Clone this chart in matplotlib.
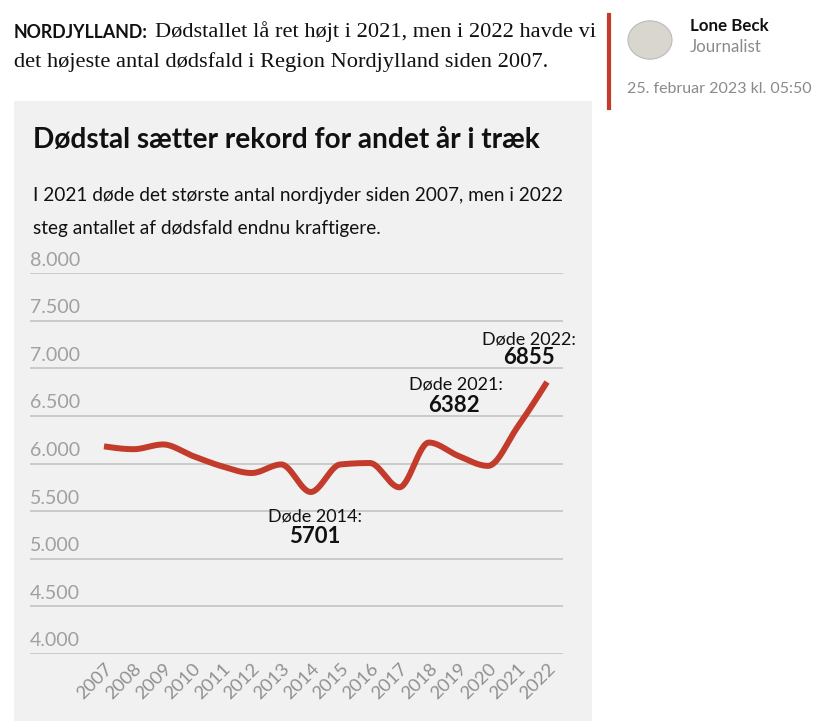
import numpy as np
import matplotlib
matplotlib.use("Agg")
import matplotlib.pyplot as plt
from matplotlib.patches import Rectangle, Circle
from matplotlib.lines import Line2D
import matplotlib.transforms as mtransforms

# ---------------- data ----------------
years = [2007, 2008, 2009, 2010, 2011, 2012, 2013, 2014,
         2015, 2016, 2017, 2018, 2019, 2020, 2021, 2022]
deaths = [6180, 6150, 6200, 6080, 5970, 5900, 5990, 5701,
          5990, 6005, 5750, 6220, 6080, 5975, 6382, 6855]
y_ticks = [4000, 4500, 5000, 5500, 6000, 6500, 7000, 7500, 8000]
y_tick_labels = ["4.000", "4.500", "5.000", "5.500", "6.000",
                 "6.500", "7.000", "7.500", "8.000"]
x_tick_labels = [str(y) for y in years]
annot_years = [2014, 2021, 2022]
annot_labels = ["Døde 2014:", "Døde 2021:", "Døde 2022:"]
annot_values = ["5701", "6382", "6855"]

title = "Dødstal sætter rekord for andet år i træk"
subtitle = ["I 2021 døde det største antal nordjyder siden 2007, men i 2022",
            "steg antallet af dødsfald endnu kraftigere."]
lead_bold = "NORDJYLLAND:"
lead_lines = ["Dødstallet lå ret højt i 2021, men i 2022 havde vi",
              "det højeste antal dødsfald i Region Nordjylland siden 2007."]
author = "Lone Beck"
role = "Journalist"
date = "25. februar 2023 kl. 05:50"

# ---------------- figure ----------------
W, H = 828, 721
fig = plt.figure(figsize=(W / 100, H / 100), dpi=100)
fig.patch.set_facecolor("white")

SANS = ["Lato", "DejaVu Sans"]
SERIF = ["Liberation Serif", "DejaVu Serif"]
RED = "#c23b2b"


def fx(px):
    return px / W


def fy(py):
    return 1 - py / H


# gray panel
fig.patches.append(Rectangle((fx(14), fy(721)), fx(592) - fx(14), fy(101) - fy(721),
                             transform=fig.transFigure, facecolor="#f1f1f1",
                             edgecolor="none", zorder=-5))

# lead text
fig.text(fx(14), fy(32), lead_bold, fontsize=12.8, fontweight="bold",
         family=SANS, color="#111111", va="center", ha="left")
fig.text(fx(155), fy(32), lead_lines[0], fontsize=16.1, family=SERIF,
         color="#111111", va="center", ha="left")
fig.text(fx(14), fy(62), lead_lines[1], fontsize=16.1, family=SERIF,
         color="#111111", va="center", ha="left")

# author block
fig.add_artist(Line2D([fx(609), fx(609)], [fy(15), fy(108)], color=RED, lw=3,
                      transform=fig.transFigure))
fig.patches.append(Circle((fx(650), fy(40)), radius=22 / W,
                          transform=fig.transFigure, facecolor="#d9d6d0",
                          edgecolor="#bbbbbb", lw=0.8, zorder=2))
fig.text(fx(690), fy(26), author, fontsize=12.2, fontweight="bold", family=SANS,
         color="#111111", va="center", ha="left")
fig.text(fx(690), fy(47), role, fontsize=12.2, family=SANS, color="#8a8a8a",
         va="center", ha="left")
fig.text(fx(627), fy(89), date, fontsize=11.5, family=SANS, color="#8a8a8a",
         va="center", ha="left")

# chart title / subtitle
fig.text(fx(33), fy(140), title, fontsize=20.2, fontweight="bold", family=SANS,
         color="#111111", va="center", ha="left")
fig.text(fx(33), fy(195), subtitle[0], fontsize=13.7, family=SANS,
         color="#111111", va="center", ha="left")
fig.text(fx(33), fy(228), subtitle[1], fontsize=13.7, family=SANS,
         color="#111111", va="center", ha="left")

# axes: pixel x 30..563, y 273 (8000) .. 654 (4000)
ax_left, ax_right, ax_top, ax_bottom = 30, 563, 273, 654
ax = fig.add_axes([fx(ax_left), fy(ax_bottom), fx(ax_right) - fx(ax_left),
                   fy(ax_top) - fy(ax_bottom)])
ax.set_zorder(5)
ax.patch.set_visible(False)
px_per_year = (547 - 104) / 15
ax.set_xlim(2007 - (104 - ax_left) / px_per_year, 2022 + (ax_right - 547) / px_per_year)
ax.set_ylim(4000, 8000)
for s in ax.spines.values():
    s.set_visible(False)
ax.set_yticks([])
for v in y_ticks:
    ax.axhline(v, color="#c8c8c8", lw=1.3, zorder=1)
trans = mtransforms.blended_transform_factory(ax.transAxes, ax.transData)
for v, lab in zip(y_ticks, y_tick_labels):
    ax.annotate(lab, xy=(0, v), xycoords=trans, xytext=(0, 13),
                textcoords="offset pixels", ha="left", va="center",
                fontsize=14.1, family=SANS, color="#a0a0a0")

ax.set_xticks(years)
ax.set_xticklabels(x_tick_labels, rotation=45, ha="right", va="top",
                   rotation_mode="anchor", fontsize=13.3, family=SANS,
                   color="#909090")
ax.tick_params(axis="x", length=0, pad=5)


# monotone cubic (d3 curveMonotoneX style) for rendering the smooth line
def monotone(xs, ys, n=30):
    xs = np.asarray(xs, float)
    ys = np.asarray(ys, float)
    h = np.diff(xs)
    d = np.diff(ys) / h
    m = np.zeros_like(ys)
    for i in range(1, len(xs) - 1):
        if d[i - 1] * d[i] <= 0:
            m[i] = 0
        else:
            p = (d[i - 1] * h[i] + d[i] * h[i - 1]) / (h[i - 1] + h[i])
            m[i] = (np.sign(d[i - 1]) + np.sign(d[i])) * min(abs(d[i - 1]), abs(d[i]), 0.5 * abs(p))
    m[0] = (3 * d[0] - m[1]) / 2
    m[-1] = (3 * d[-1] - m[-2]) / 2
    X, Y = [], []
    for i in range(len(xs) - 1):
        tt = np.linspace(0, 1, n, endpoint=False)
        h00 = 2 * tt**3 - 3 * tt**2 + 1
        h10 = tt**3 - 2 * tt**2 + tt
        h01 = -2 * tt**3 + 3 * tt**2
        h11 = tt**3 - tt**2
        X.append(xs[i] + tt * h[i])
        Y.append(h00 * ys[i] + h10 * h[i] * m[i] + h01 * ys[i + 1] + h11 * h[i] * m[i + 1])
    X.append([xs[-1]])
    Y.append([ys[-1]])
    return np.concatenate(X), np.concatenate(Y)


sx, sy = monotone(years, deaths)
ax.plot(sx, sy, color=RED, lw=4.3, solid_capstyle="butt", zorder=3)

# annotations: (label dx, label dy, value dx, value dy) in pixels from the point
ann_pos = {2014: (4, -25, 4, -45), 2021: (-62, 43, -64, 22), 2022: (-18, 43, -18, 25)}
for yr, lab, val in zip(annot_years, annot_labels, annot_values):
    v = deaths[years.index(yr)]
    ldx, ldy, vdx, vdy = ann_pos[yr]
    ax.annotate(lab, xy=(yr, v), xytext=(ldx, ldy), textcoords="offset pixels",
                ha="center", va="center", fontsize=13, family=SANS, color="#111111")
    ax.annotate(val, xy=(yr, v), xytext=(vdx, vdy), textcoords="offset pixels",
                ha="center", va="center", fontsize=16, fontweight="bold",
                family=SANS, color="#111111")

fig.savefig("out.png", dpi=100, facecolor="white")
